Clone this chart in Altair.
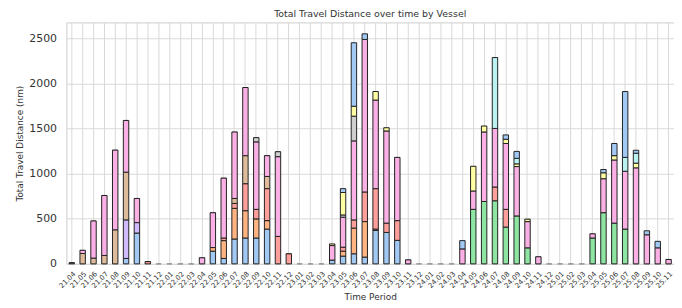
import altair as alt
import pandas as pd

periods = (
    ["21.04", "21.05", "21.06", "21.07", "21.08", "21.09", "21.10", "21.11", "21.12"]
    + [f"22.{m:02d}" for m in range(1, 13)]
    + [f"23.{m:02d}" for m in range(1, 13)]
    + [f"24.{m:02d}" for m in range(1, 13)]
    + [f"25.{m:02d}" for m in range(1, 12)]
)

vessels = ["Vessel 1", "Vessel 2", "Vessel 3", "Vessel 4", "Vessel 5", "Vessel 6",
           "Vessel 7", "Vessel 8", "Vessel 9", "Vessel 10", "Vessel 11"]
colors = ["#a1c9f4", "#ffb482", "#8de5a1", "#ff9f9b", "#d0bbff", "#debb9b",
          "#fab0e4", "#cfcfcf", "#fffea3", "#b9f2f0", "#a1c9f4"]

Z21 = [0] * 9
Z12 = [0] * 12
Z11 = [0] * 11

v1 = ([12, 0, 0, 0, 0, 60, 342, 0, 0]
      + [0, 0, 0, 0, 141, 60, 276, 287, 287, 386, 0, 0]
      + [0, 0, 0, 42, 86, 112, 75, 371, 349, 261, 0, 0]
      + Z12 + Z11)
v2 = (Z21
      + [0, 0, 0, 0, 40, 198, 340, 303, 212, 94, 0, 0]
      + [0, 0, 0, 0, 55, 285, 394, 15, 0, 0, 0, 0]
      + Z12 + Z11)
v3 = (Z21 + Z12 + Z12
      + [0, 0, 0, 0, 605, 692, 700, 408, 532, 178, 0, 0]
      + [0, 0, 0, 287, 568, 452, 386, 0, 0, 0, 0])
v4 = ([0, 0, 0, 0, 0, 0, 0, 25, 0]
      + [0, 0, 0, 0, 0, 29, 55, 300, 106, 355, 305, 112]
      + [0, 0, 0, 0, 44, 91, 329, 449, 103, 219, 0, 0]
      + [0, 0, 0, 0, 0, 0, 153, 197, 0, 0, 0, 0]
      + Z11)
v5 = ([0, 0, 0, 0, 0, 428, 116, 0, 0] + Z12 + Z12 + Z12 + Z11)
v6 = ([0, 115, 64, 93, 378, 530, 0, 0, 0]
      + [0, 0, 0, 0, 0, 0, 55, 311, 0, 135, 0, 0]
      + Z12 + Z12 + Z11)
v7 = ([0, 36, 413, 666, 885, 574, 268, 0, 0]
      + [0, 0, 0, 68, 387, 665, 738, 756, 749, 231, 885, 0]
      + [0, 0, 0, 161, 333, 877, 1693, 983, 1023, 702, 45, 0]
      + [0, 0, 0, 166, 204, 772, 650, 731, 548, 291, 79, 0]
      + [0, 0, 0, 47, 377, 701, 642, 1066, 323, 178, 49])
v8 = (Z21
      + [0, 0, 0, 0, 0, 0, 0, 0, 47, 0, 55, 0]
      + [0, 0, 0, 0, 25, 274, 0, 0, 0, 0, 0, 0]
      + Z12 + Z11)
v9 = (Z21 + Z12
      + [0, 0, 0, 18, 249, 110, 0, 95, 36, 0, 0, 0]
      + [0, 0, 0, 0, 274, 66, 0, 47, 30, 27, 0, 0]
      + [0, 0, 0, 0, 66, 48, 0, 52, 0, 0, 0])
v10 = (Z21 + Z12 + Z12
       + [0, 0, 0, 0, 0, 0, 787, 0, 61, 0, 0, 0]
       + [0, 0, 0, 0, 0, 0, 154, 110, 0, 0, 0])
v11 = (Z21 + Z12
       + [0, 0, 0, 0, 43, 705, 62, 0, 0, 0, 0, 0]
       + [0, 0, 0, 92, 0, 0, 0, 48, 77, 0, 0, 0]
       + [0, 0, 0, 0, 36, 135, 731, 33, 44, 72, 0])

series = [v1, v2, v3, v4, v5, v6, v7, v8, v9, v10, v11]

rows = []
for vi, (name, vals) in enumerate(zip(vessels, series)):
    for p, val in zip(periods, vals):
        rows.append({"period": p, "vessel": name, "vidx": vi, "distance": val})
df = pd.DataFrame(rows)

FONT = "DejaVu Sans"
TXT = "#333333"

chart = (
    alt.Chart(df)
    .mark_bar(stroke="#222222", strokeWidth=1)
    .encode(
        x=alt.X(
            "period:N",
            sort=periods,
            scale=alt.Scale(paddingInner=0.5, paddingOuter=0.25),
            axis=alt.Axis(
                title="Time Period",
                labelAngle=-45,
                labelFontSize=7,
                labelPadding=6,
                ticks=False,
                domain=False,
                grid=True,
                gridColor="#d9d9d9",
                titleFontSize=9,
                titleFontWeight="normal",
                titleY=33,
                titleBaseline="middle",
            ),
        ),
        y=alt.Y(
            "distance:Q",
            stack="zero",
            scale=alt.Scale(domain=[0, 2680], nice=False),
            axis=alt.Axis(
                title="Total Travel Distance (nm)",
                values=[0, 500, 1000, 1500, 2000, 2500],
                format="d",
                labelFontSize=11,
                labelPadding=10,
                ticks=False,
                domain=False,
                grid=True,
                gridColor="#d9d9d9",
                titleFontSize=9,
                titleFontWeight="normal",
                titleX=-47,
                titleY=122,
                titleBaseline="middle",
            ),
        ),
        color=alt.Color(
            "vessel:N",
            scale=alt.Scale(domain=vessels, range=colors),
            legend=None,
        ),
        strokeOpacity=alt.condition(
            alt.datum.distance == 0, alt.value(0.03), alt.value(1.0)
        ),
        order=alt.Order("vidx:Q", sort="ascending"),
    )
    .properties(
        width=614,
        height=244,
        title=alt.TitleParams(
            "Total Travel Distance over time by Vessel",
            fontSize=9.5,
            fontWeight="normal",
            font=FONT,
            color=TXT,
            offset=4,
        ),
        autosize=alt.AutoSizeParams(type="none"),
        padding={"left": 59, "top": 13, "right": 0, "bottom": 38},
    )
    .configure_view(stroke="#cccccc", strokeWidth=1)
    .configure_axis(
        labelFont=FONT,
        titleFont=FONT,
        labelColor=TXT,
        titleColor=TXT,
    )
)

chart.save("out.html", embed_options={"renderer": "svg", "actions": False})
